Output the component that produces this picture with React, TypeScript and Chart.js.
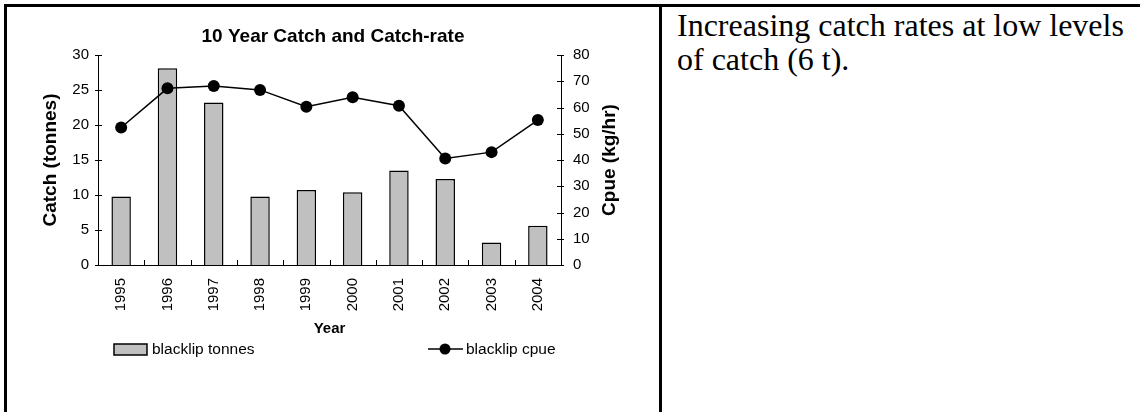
import React, { useEffect, useRef } from "react";
import { Chart, registerables } from "chart.js";

Chart.register(...registerables);

// ---- data ----
const years = ["1995", "1996", "1997", "1998", "1999", "2000", "2001", "2002", "2003", "2004"];
const catchTonnes = [9.8, 28.1, 23.2, 9.8, 10.7, 10.4, 13.5, 12.3, 3.2, 5.6];
const cpueKgHr = [52.4, 67.3, 68.2, 66.7, 60.3, 63.9, 60.7, 40.6, 43.0, 55.2];
const catchAxis = [0, 30, 5]; // min, max, step
const cpueAxis = [0, 80, 10];

const chartTitle = "10 Year Catch and Catch-rate";
const xTitle = "Year";
const yTitle = "Catch (tonnes)";
const y1Title = "Cpue (kg/hr)";
const barLabel = "blacklip tonnes";
const lineLabel = "blacklip cpue";
const noteLines = ["Increasing catch rates at low levels", "of catch (6 t)."];

const FAMILY = "'Liberation Sans', Arial, sans-serif";
const BAR_FILL = "#C0C0C0";

const tickMarks = {
  id: "tickMarks",
  afterDraw(chart: any) {
    const ctx = chart.ctx;
    const { left, right, bottom } = chart.chartArea;
    const ys = chart.scales.y;
    const y1 = chart.scales.y1;
    const xs = chart.scales.x;
    ctx.save();
    ctx.strokeStyle = "#000";
    ctx.lineWidth = 1;
    ctx.beginPath();
    ys.ticks.forEach((t: any) => {
      const py = Math.round(ys.getPixelForValue(t.value)) + 0.5;
      ctx.moveTo(left - 3, py);
      ctx.lineTo(left + 4, py);
    });
    y1.ticks.forEach((t: any) => {
      const py = Math.round(y1.getPixelForValue(t.value)) + 0.5;
      ctx.moveTo(right - 4, py);
      ctx.lineTo(right + 3, py);
    });
    const n = xs.ticks.length;
    for (let i = 0; i <= n; i++) {
      const px = Math.round(left + ((right - left) * i) / n) + 0.5;
      ctx.moveTo(px, bottom);
      ctx.lineTo(px, bottom - 5);
    }
    ctx.stroke();
    ctx.restore();
  },
};

// right axis title reads bottom-to-top like the left one
const rightTitle = {
  id: "rightTitle",
  afterDraw(chart: any) {
    const ctx = chart.ctx;
    const s = chart.scales.y1;
    const { top, bottom } = chart.chartArea;
    ctx.save();
    ctx.translate(s.right - 49, (top + bottom) / 2);
    ctx.rotate(-Math.PI / 2);
    ctx.font = `bold 19px ${FAMILY}`;
    ctx.fillStyle = "#000";
    ctx.textAlign = "center";
    ctx.textBaseline = "middle";
    ctx.fillText(y1Title, 0, 0);
    ctx.restore();
  },
};

const customLegend = {
  id: "customLegend",
  afterDraw(chart: any) {
    const ctx = chart.ctx;
    const { bottom } = chart.chartArea;
    const cy = bottom + 84;
    ctx.save();
    ctx.font = `15.5px ${FAMILY}`;
    ctx.textBaseline = "middle";
    ctx.textAlign = "left";
    // bar item
    ctx.fillStyle = BAR_FILL;
    ctx.fillRect(107, cy - 5, 33, 11);
    ctx.strokeStyle = "#000";
    ctx.lineWidth = 1.5;
    ctx.strokeRect(107, cy - 5, 33, 11);
    ctx.fillStyle = "#000";
    ctx.fillText(barLabel, 145, cy + 1);
    // line item
    ctx.beginPath();
    ctx.moveTo(421, cy);
    ctx.lineTo(456, cy);
    ctx.lineWidth = 1.5;
    ctx.stroke();
    ctx.beginPath();
    ctx.arc(438, cy, 5.5, 0, Math.PI * 2);
    ctx.fill();
    ctx.fillText(lineLabel, 459, cy + 1);
    ctx.restore();
  },
};

export default function App() {
  const ref = useRef<HTMLCanvasElement>(null);

  useEffect(() => {
    const chart = new Chart(ref.current as HTMLCanvasElement, {
      type: "bar",
      data: {
        labels: years,
        datasets: [
          {
            type: "line",
            label: lineLabel,
            data: cpueKgHr,
            yAxisID: "y1",
            borderColor: "#000",
            backgroundColor: "#000",
            borderWidth: 1.5,
            pointRadius: 6,
            pointBackgroundColor: "#000",
            pointBorderColor: "#000",
            pointBorderWidth: 0,
            tension: 0,
            order: 0,
          } as any,
          {
            type: "bar",
            label: barLabel,
            data: catchTonnes,
            yAxisID: "y",
            backgroundColor: BAR_FILL,
            borderColor: "#000",
            borderWidth: 1.5,
            barPercentage: 0.42,
            categoryPercentage: 1,
            order: 1,
          } as any,
        ],
      },
      options: {
        responsive: false,
        maintainAspectRatio: false,
        animation: false,
        devicePixelRatio: 1,
        layout: { padding: { top: 0, left: 0, right: 0, bottom: 67 } },
        plugins: {
          legend: { display: false },
          tooltip: { enabled: false },
          title: {
            display: true,
            text: chartTitle,
            color: "#000",
            font: { family: FAMILY, size: 19, weight: "bold" },
            padding: { top: 18.6, bottom: 6.6 },
          },
        },
        scales: {
          x: {
            offset: true,
            grid: { display: false, drawTicks: false },
            border: { display: true, color: "#000", width: 1 },
            ticks: {
              color: "#000",
              font: { family: FAMILY, size: 15 },
              maxRotation: 90,
              minRotation: 90,
              padding: 13,
              autoSkip: false,
            },
            title: {
              display: true,
              text: xTitle,
              color: "#000",
              font: { family: FAMILY, size: 15, weight: "bold" },
              padding: { top: 0, bottom: 7 },
            },
            afterFit: (s: any) => {
              s.height = 80;
            },
          },
          y: {
            position: "left",
            min: catchAxis[0],
            max: catchAxis[1],
            grid: { display: false, drawTicks: false },
            border: { display: true, color: "#000", width: 1 },
            ticks: { stepSize: catchAxis[2], color: "#000", font: { family: FAMILY, size: 15 }, padding: 9 },
            title: {
              display: true,
              text: yTitle,
              color: "#000",
              font: { family: FAMILY, size: 19, weight: "bold" },
              padding: { top: 32.6, bottom: 0 },
            },
            afterFit: (s: any) => {
              s.width = 91;
            },
          },
          y1: {
            position: "right",
            min: cpueAxis[0],
            max: cpueAxis[1],
            grid: { display: false, drawTicks: false },
            border: { display: true, color: "#000", width: 1 },
            ticks: { stepSize: cpueAxis[2], color: "#000", font: { family: FAMILY, size: 15 }, padding: 12 },
            title: { display: false },
            afterFit: (s: any) => {
              s.width = 98;
            },
          },
        },
      } as any,
      plugins: [tickMarks, rightTitle, customLegend],
    });
    return () => chart.destroy();
  }, []);

  return (
    <div
      style={{
        position: "fixed",
        left: 0,
        top: 0,
        width: 1140,
        height: 412,
        background: "#fff",
        overflow: "hidden",
      }}
    >
      {/* table borders */}
      <div style={{ position: "absolute", left: 4, top: 4, width: 1136, height: 3, background: "#000" }} />
      <div style={{ position: "absolute", left: 4, top: 4, width: 3, height: 408, background: "#000" }} />
      <div style={{ position: "absolute", left: 659, top: 4, width: 3, height: 408, background: "#000" }} />
      <canvas
        ref={ref}
        width={652}
        height={405}
        style={{ position: "absolute", left: 7, top: 7, width: 652, height: 405 }}
      />
      <div
        style={{
          position: "absolute",
          left: 677,
          top: 8,
          fontFamily: "'Liberation Serif', 'Times New Roman', serif",
          fontSize: 32,
          lineHeight: "34px",
          color: "#000",
          whiteSpace: "nowrap",
        }}
      >
        {noteLines[0]}
        <br />
        {noteLines[1]}
      </div>
    </div>
  );
}
